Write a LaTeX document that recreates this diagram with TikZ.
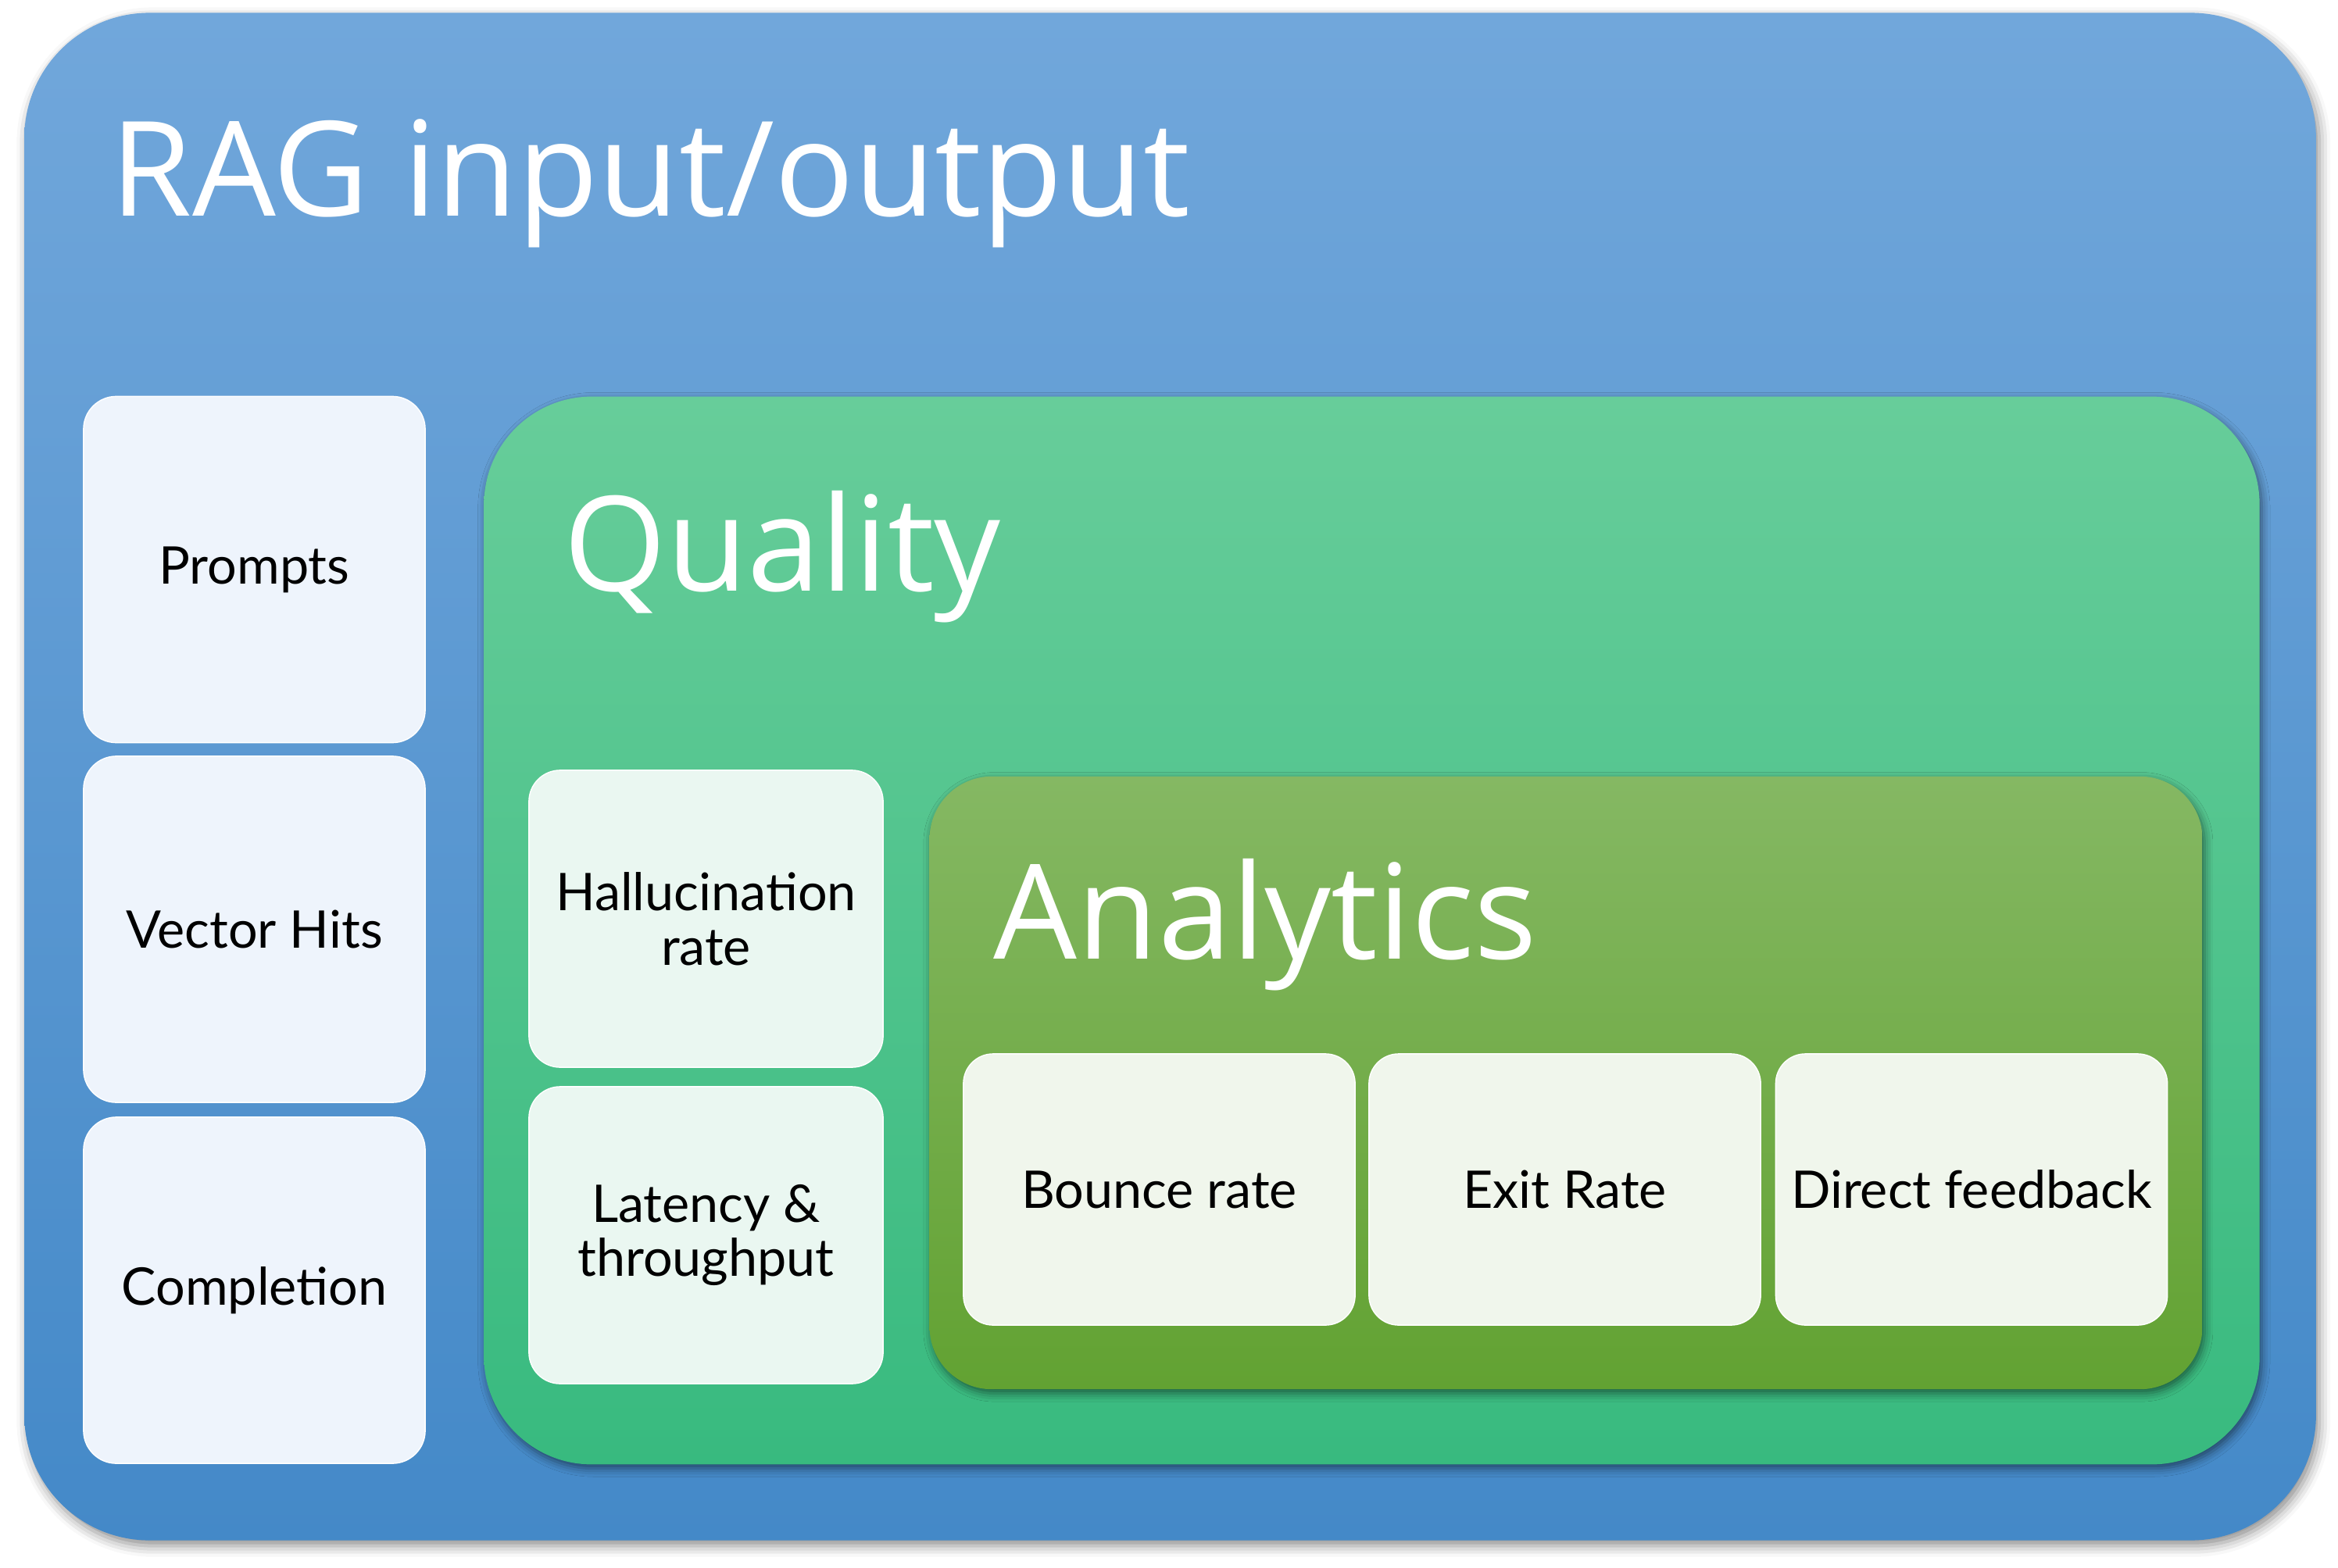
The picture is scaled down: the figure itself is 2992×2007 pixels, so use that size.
\documentclass[tikz,border=0pt]{standalone}
\usepackage{fontspec}
\setmainfont{Open Sans}
\newfontfamily\itemfont{Lato}
\usetikzlibrary{shadows.blur}
\definecolor{bluetop}{HTML}{71A7DB}
\definecolor{bluebot}{HTML}{4489C8}
\definecolor{qtop}{HTML}{67CD9A}
\definecolor{qbot}{HTML}{38BA7F}
\definecolor{atop}{HTML}{85B863}
\definecolor{abot}{HTML}{62A232}
\definecolor{lightblue}{HTML}{EEF4FC}
\definecolor{lightmint}{HTML}{EAF7F1}
\definecolor{lightgreen}{HTML}{F0F6EC}
\tikzset{
  panel/.style={rectangle, inner sep=0pt, draw=none},
  outerpanel/.style={panel, top color=bluetop, bottom color=bluebot, rounded corners=1.6cm,
     blur shadow={shadow xshift=1.2pt, shadow yshift=-2pt, shadow blur radius=4pt, shadow opacity=45}},
  qualpanel/.style={panel, top color=qtop, bottom color=qbot, rounded corners=1.38cm,
     blur shadow={shadow xshift=0.8pt, shadow yshift=-1.5pt, shadow blur radius=3pt, shadow opacity=50}},
  anapanel/.style={panel, top color=atop, bottom color=abot, rounded corners=0.8cm,
     blur shadow={shadow xshift=0.8pt, shadow yshift=-1.5pt, shadow blur radius=3pt, shadow opacity=50}},
  item/.style={rectangle, inner sep=0pt, align=center, text=black,
     font=\itemfont\fontsize{18.9}{19.8}\selectfont, draw=white, line width=0.4pt},
  bluebox/.style={item, fill=lightblue, rounded corners=0.42cm, minimum width=4.37cm, minimum height=4.43cm},
  mintbox/.style={item, fill=lightmint, rounded corners=0.4cm, minimum width=4.53cm, minimum height=3.80cm},
  greenbox/.style={item, fill=lightgreen, rounded corners=0.38cm, minimum width=5.01cm, minimum height=3.47cm},
  title/.style={anchor=base west, inner sep=0pt, text=white, font=\fontsize{48}{50}\selectfont}
}
\begin{document}
\begin{tikzpicture}[x=0.01cm,y=-0.01cm]
\useasboundingbox (0,0) rectangle (2992,2007);
\node[outerpanel, minimum width=29.31cm, minimum height=19.54cm] (outer) at (1497.5,994) {};
\node[title] (ragtitle) at (141,277) {RAG input/output};
\node[bluebox] (prompts) at (325.5,729) {Prompts};
\node[bluebox] (vector) at (325.5,1189.5) {Vector Hits};
\node[bluebox] (completion) at (325.5,1651.5) {Completion};
\node[qualpanel, minimum width=22.71cm, minimum height=13.66cm] (quality) at (1755.5,1191) {};
\node[title] (qualtitle) at (721,756) {Quality};
\node[mintbox] (halluc) at (903.5,1176) {Hallucination\\rate};
\node[mintbox] (latency) at (903.5,1581) {Latency \&\\throughput};
\node[anapanel, minimum width=16.28cm, minimum height=7.84cm] (analytics) at (2004,1386) {};
\node[title] (anatitle) at (1271,1227) {Analytics};
\node[greenbox] (bounce) at (1483.5,1522.5) {Bounce rate};
\node[greenbox] (exit) at (2002.5,1522.5) {Exit Rate};
\node[greenbox] (direct) at (2523,1522.5) {Direct feedback};
\end{tikzpicture}
\end{document}
